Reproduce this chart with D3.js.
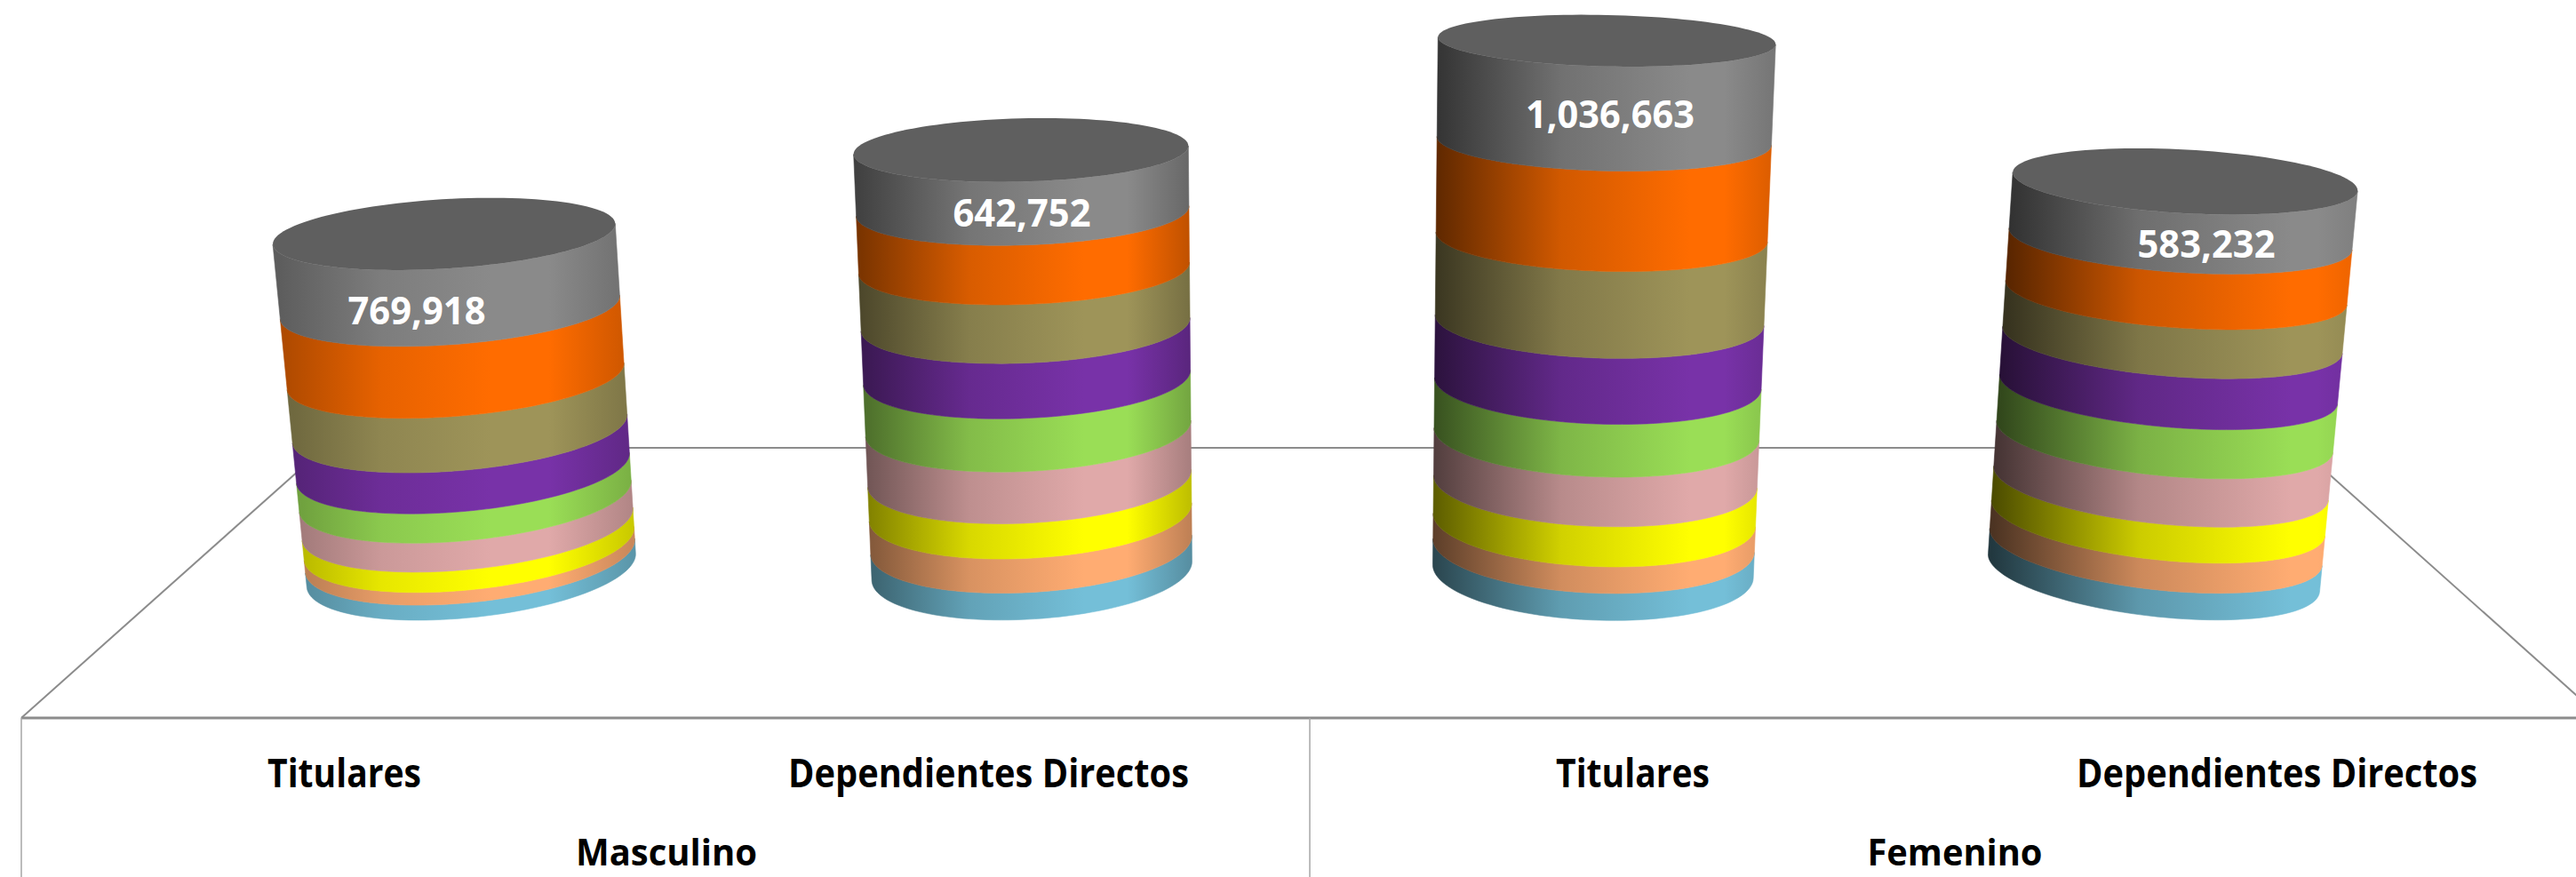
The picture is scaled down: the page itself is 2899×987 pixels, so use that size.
<!DOCTYPE html>
<html>
<head>
<meta charset="utf-8">
<style>
  html, body { margin: 0; padding: 0; background: #fff; }
  svg { display: block; }
  text { font-family: "Open Sans", "Noto Sans", sans-serif; font-weight: 700; }
</style>
<script src="https://cdn.jsdelivr.net/npm/d3@7"></script>
</head>
<body>
<svg id="chart" width="2899" height="987"></svg>
<script>
// datos: de abajo hacia arriba en cada cilindro
const categories = ['Titulares', 'Dependientes Directos', 'Titulares', 'Dependientes Directos'];
const groups = ['Masculino', 'Femenino'];
const seriesNames = ['azul', 'durazno', 'amarillo', 'rosa', 'verde', 'morado', 'oliva', 'naranja', 'gris'];
const seriesColors = ['#74bfd8', '#ffac72', '#ffff00', '#e0a9a9', '#9ade56', '#7832a8', '#9e9459', '#ff6c00', '#8a8a8a'];

const azul = [152000, 272000, 268000, 262000];
const durazno = [128000, 346000, 264000, 295000];
const amarillo = [205000, 356000, 398000, 353000];
const rosa = [293000, 524000, 492000, 474000];
const verde = [296000, 538000, 524000, 481000];
const morado = [414000, 559000, 654000, 500000];
const oliva = [550000, 594000, 862000, 481000];
const naranja = [725000, 601000, 996000, 545000];
const gris = [769918, 642752, 1036663, 583232];

const seriesValues = [azul, durazno, amarillo, rosa, verde, morado, oliva, naranja, gris];

// perspectiva de cada cilindro: elipse de la base y de la tapa
const cylinders = [
  { bottom: { x: 530.3, y: 641.7, a: 186, b: 53, tilt: -6.1 }, top: { x: 499.7, y: 263.3, a: 193, b: 39, tilt: -3.5 },
    shade: [0.66, 0.6, 0.78], label: [469, 365, 155] },
  { bottom: { x: 1161.3, y: 642.4, a: 180.5, b: 54.3, tilt: -3.65 }, top: { x: 1149, y: 168.8, a: 188.4, b: 35.6, tilt: -1.46 },
    shade: [0.46, 0.68, 0.74], label: [1150, 255, 155] },
  { bottom: { x: 1792.8, y: 643, a: 180.5, b: 54.8, tilt: 2.5 }, top: { x: 1808.3, y: 45.8, a: 190, b: 28.9, tilt: 1.24 },
    shade: [0.36, 0.75, 0.85], label: [1812, 144, 190] },
  { bottom: { x: 2424, y: 644.5, a: 187.7, b: 48.9, tilt: 6.67 }, top: { x: 2459.2, y: 204.2, a: 194.3, b: 35.8, tilt: 3.1 },
    shade: [0.28, 0.82, 0.92], label: [2483, 290, 155] },
];

const svg = d3.select('#chart');
const defs = svg.append('defs');

const rows = categories.map((name, i) => {
  const row = { index: i };
  seriesNames.forEach((key, s) => { row[key] = seriesValues[s][i]; });
  return row;
});
const stacked = d3.stack().keys(seriesNames)(rows);

const xBand = d3.scaleBand().domain(d3.range(categories.length)).range([24, 2924]);
const lineColor = '#8c8c8c';

// suelo del grafico
const floor = svg.append('g').attr('class', 'floor').attr('fill', 'none').attr('stroke', lineColor);
floor.append('path')
  .attr('stroke-width', 2)
  .attr('d', d3.line()([[24, 808], [365, 504], [2588, 504], [2928, 808]]));
floor.append('line')
  .attr('x1', 24).attr('x2', 2899).attr('y1', 808).attr('y2', 808)
  .attr('stroke-width', 3);
[24, 1474].forEach(x => {
  floor.append('line')
    .attr('x1', x).attr('x2', x).attr('y1', 808).attr('y2', 987)
    .attr('stroke', '#a6a6a6').attr('stroke-width', 1.5);
});

function ellipseAt(cyl, t) {
  const lerp = key => d3.interpolateNumber(cyl.bottom[key], cyl.top[key])(t);
  return { x: lerp('x'), y: lerp('y'), a: lerp('a'), b: lerp('b'), tilt: (lerp('tilt') * Math.PI) / 180 };
}

function ellipsePoint(e, phi) {
  const u = e.a * Math.cos(phi);
  const v = e.b * Math.sin(phi);
  return [e.x + u * Math.cos(e.tilt) - v * Math.sin(e.tilt), e.y + u * Math.sin(e.tilt) + v * Math.cos(e.tilt)];
}

const frontAngles = d3.range(0, 61).map(i => (i / 60) * Math.PI);
const fullAngles = d3.range(0, 121).map(i => (i / 120) * 2 * Math.PI);
const linePath = d3.line();

function addGradient(id, color, shade, x0, x1) {
  const [left, peak, right] = shade;
  const dark = d3.interpolateRgb('#000', color);
  const grad = defs.append('linearGradient')
    .attr('id', id)
    .attr('gradientUnits', 'userSpaceOnUse')
    .attr('x1', x0).attr('x2', x1).attr('y1', 0).attr('y2', 0);
  const stops = [
    [0, left],
    [peak * 0.5, left + (1 - left) * 0.72],
    [peak, 1],
    [peak + (1 - peak) * 0.4, 1],
    [1, right],
  ];
  stops.forEach(([offset, k]) => {
    grad.append('stop').attr('offset', offset).attr('stop-color', dark(k));
  });
}

cylinders.forEach((cyl, c) => {
  const total = d3.sum(seriesValues, values => values[c]);
  const level = d3.scaleLinear().domain([0, total]).range([0, 1]);
  const x0 = Math.min(cyl.bottom.x - cyl.bottom.a, cyl.top.x - cyl.top.a);
  const x1 = Math.max(cyl.bottom.x + cyl.bottom.a, cyl.top.x + cyl.top.a);
  const g = svg.append('g').attr('class', 'cylinder');

  stacked.forEach((layer, s) => {
    const [v0, v1] = layer[c];
    const lower = ellipseAt(cyl, level(v0));
    const upper = ellipseAt(cyl, level(v1));
    const points = frontAngles.map(phi => ellipsePoint(lower, phi))
      .concat(frontAngles.slice().reverse().map(phi => ellipsePoint(upper, phi)));
    const id = `band-${c}-${s}`;
    addGradient(id, seriesColors[s], cyl.shade, x0, x1);
    g.append('path')
      .attr('d', linePath(points) + 'Z')
      .attr('fill', `url(#${id})`)
      .attr('stroke', `url(#${id})`)
      .attr('stroke-width', 0.6);
  });

  // tapa
  g.append('path')
    .attr('d', linePath(fullAngles.map(phi => ellipsePoint(ellipseAt(cyl, 1), phi))) + 'Z')
    .attr('fill', '#5f5f5f');

  const [lx, ly, lw] = cyl.label;
  g.append('text')
    .attr('x', lx).attr('y', ly)
    .attr('text-anchor', 'middle')
    .attr('fill', '#fff')
    .attr('font-size', 43)
    .attr('textLength', lw)
    .attr('lengthAdjust', 'spacingAndGlyphs')
    .text(d3.format(',')(gris[c]));
});

// etiquetas del eje
const categoryWidths = [173, 451, 173, 451];
svg.append('g').selectAll('text')
  .data(categories)
  .join('text')
  .attr('x', (d, i) => xBand(i) + xBand.bandwidth() / 2 + 1)
  .attr('y', 886)
  .attr('text-anchor', 'middle')
  .attr('fill', '#000')
  .attr('font-size', 45)
  .attr('textLength', (d, i) => categoryWidths[i])
  .attr('lengthAdjust', 'spacingAndGlyphs')
  .text(d => d);

const groupWidths = [204, 197];
svg.append('g').selectAll('text')
  .data(groups)
  .join('text')
  .attr('x', (d, i) => xBand(i * 2) + xBand.bandwidth() + 1)
  .attr('y', 974)
  .attr('text-anchor', 'middle')
  .attr('fill', '#000')
  .attr('font-size', 42)
  .attr('textLength', (d, i) => groupWidths[i])
  .attr('lengthAdjust', 'spacingAndGlyphs')
  .text(d => d);
</script>
</body>
</html>
